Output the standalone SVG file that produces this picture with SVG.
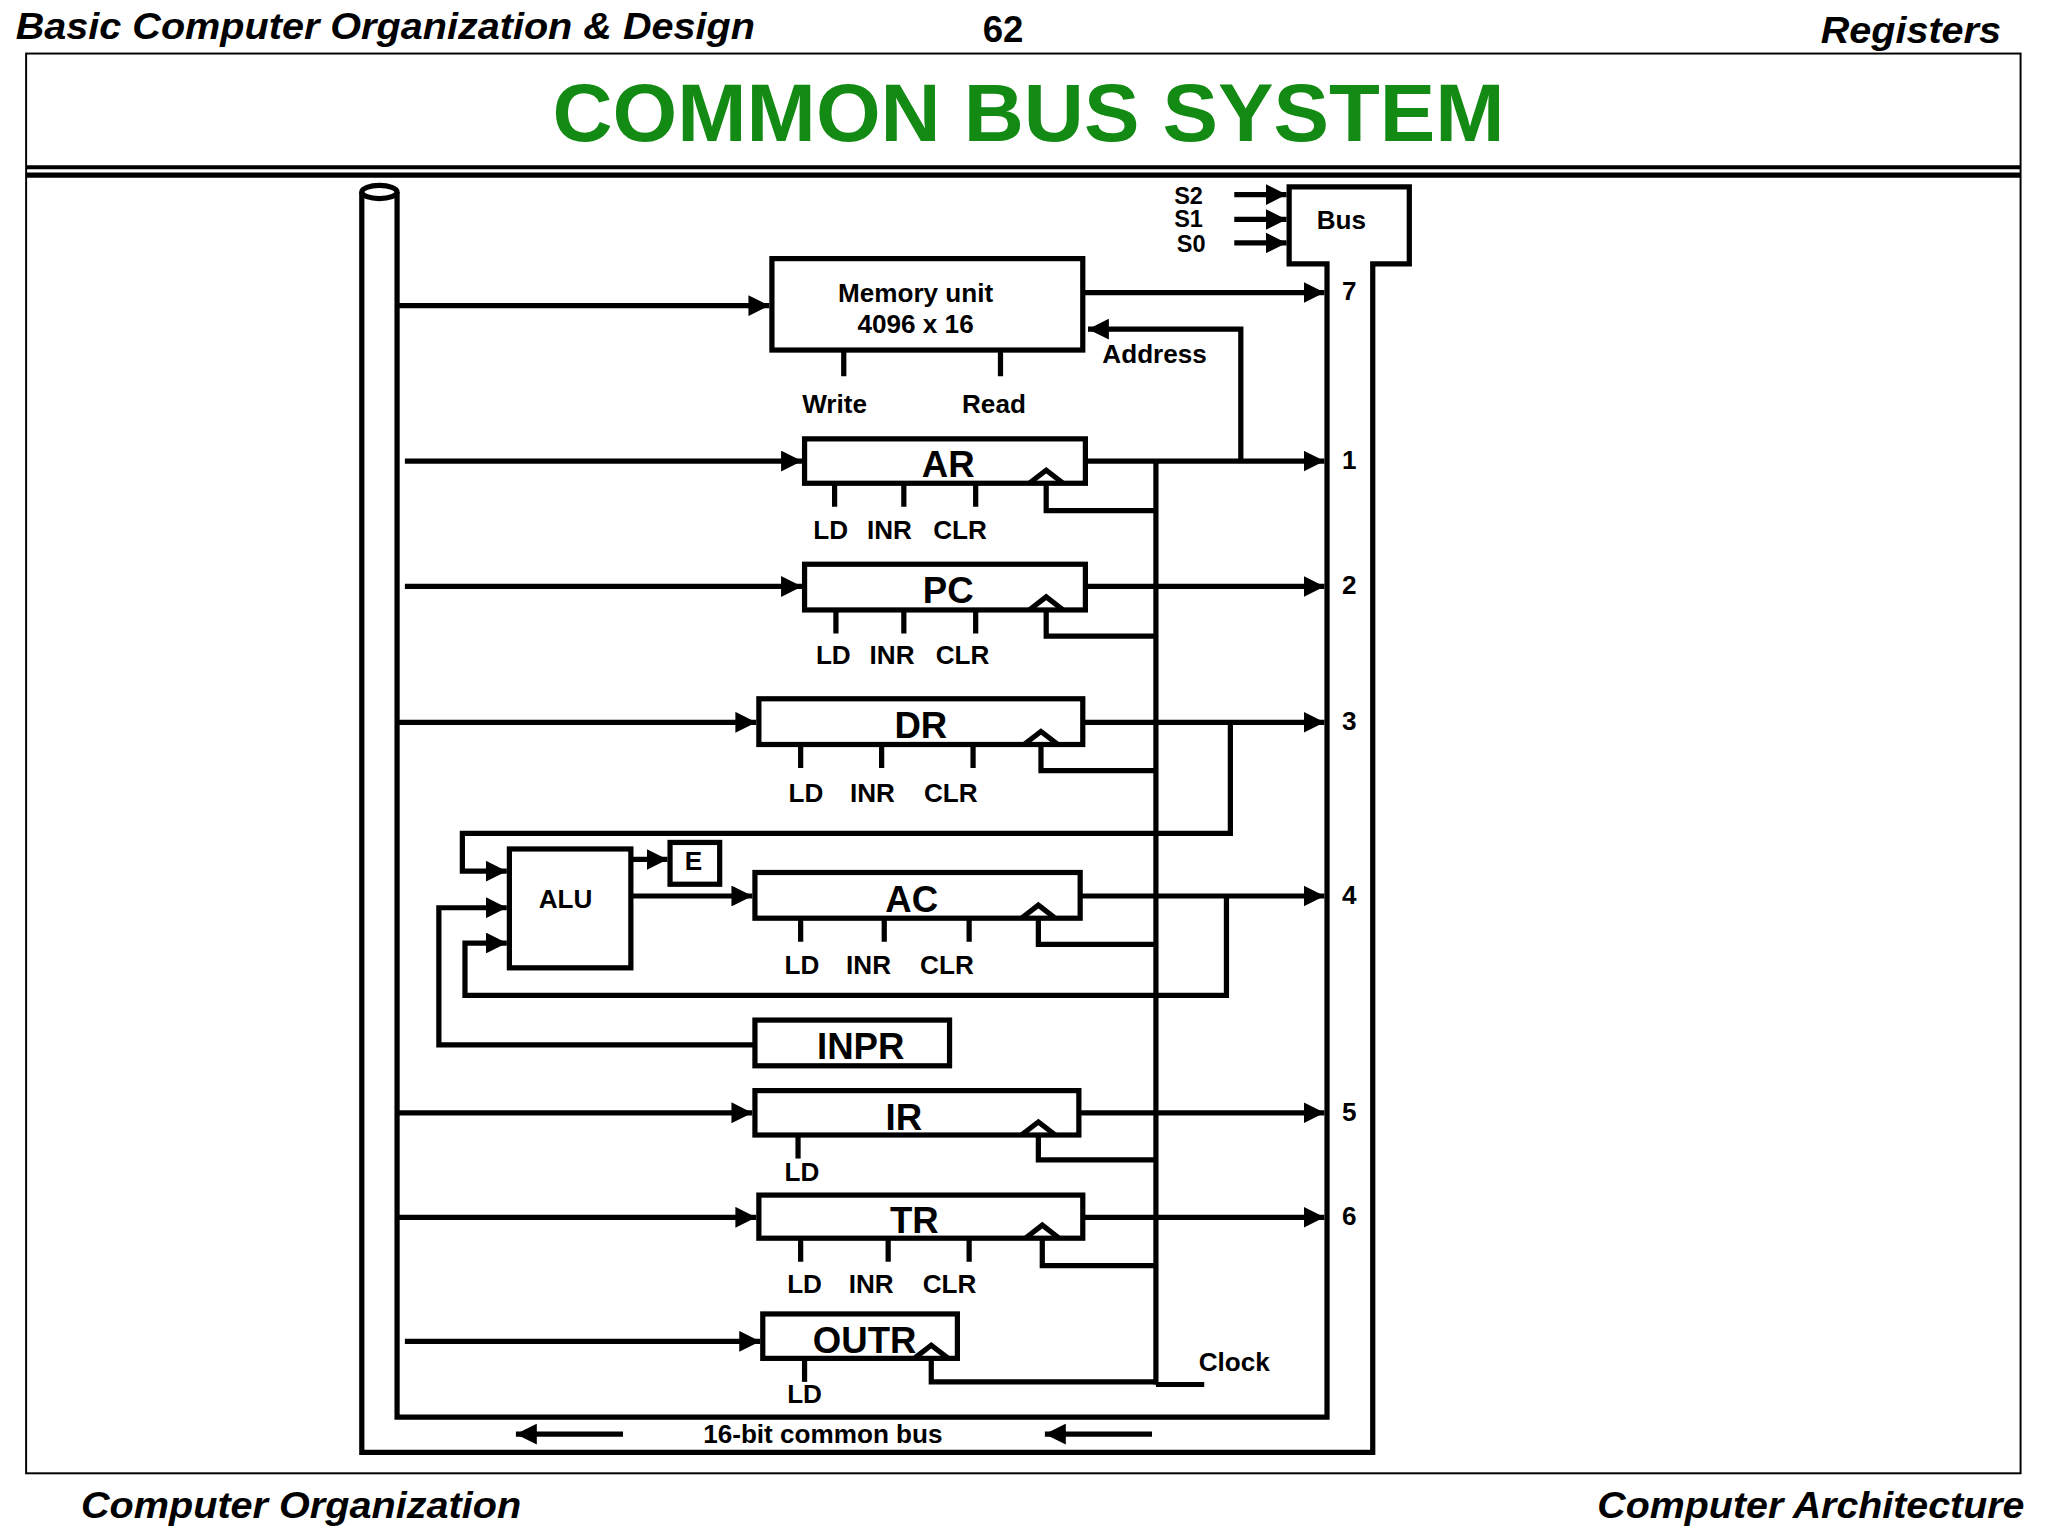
<svg xmlns="http://www.w3.org/2000/svg" width="2048" height="1536" viewBox="0 0 2048 1536">
<defs>
<marker id="ah" viewBox="0 0 10 10" refX="10" refY="5" markerWidth="4" markerHeight="4" orient="auto"><path d="M0,0 L10,5 L0,10 Z" fill="#000"/></marker>
<style>
.l{stroke:#000;stroke-width:4;fill:none}
.a{stroke:#000;stroke-width:4;fill:none;marker-end:url(#ah)}
.r{stroke:#000;stroke-width:4;fill:#fff}
text{font-family:"Liberation Sans",Arial,sans-serif;font-weight:bold;fill:#000}
.s{font-size:18px;text-anchor:middle}
.m{font-size:20px;text-anchor:middle}
.big{font-size:28px;text-anchor:middle}
.h{font-size:28px;font-style:italic}
</style>
</defs>
<rect width="2048" height="1536" fill="#fff"/>
<g transform="scale(1.30612)">
<g id="header">
<text class="h" x="12" y="30" textLength="566" lengthAdjust="spacingAndGlyphs">Basic Computer Organization &amp; Design</text>
<text x="768" y="32" style="font-size:28px;text-anchor:middle">62</text>
<text class="h" x="1394" y="33" textLength="138" lengthAdjust="spacingAndGlyphs">Registers</text>
<rect x="20" y="41" width="1527" height="1087" fill="none" stroke="#000" stroke-width="1.5"/>
<line x1="20" y1="128" x2="1547" y2="128" stroke="#000" stroke-width="3"/>
<line x1="20" y1="134" x2="1547" y2="134" stroke="#000" stroke-width="4"/>
<text x="423" y="108" textLength="729" lengthAdjust="spacingAndGlyphs" style="font-size:62px;fill:#138a13">COMMON  BUS  SYSTEM</text>
<text class="h" x="62" y="1162" textLength="337" lengthAdjust="spacingAndGlyphs">Computer Organization</text>
<text class="h" x="1223" y="1162" textLength="327" lengthAdjust="spacingAndGlyphs">Computer Architecture</text>
</g>
<g id="bus">
<path class="l" d="M277,147 V1112 H1051 V202 H1079 V143 H987 V202 H1016 V1085 H304 V147"/>
<ellipse cx="290.5" cy="147" rx="13.5" ry="5" class="r"/>
<text x="1027" y="175" class="m">Bus</text>
<text x="910" y="156" class="s">S2</text><text x="910" y="174" class="s">S1</text><text x="912" y="193" class="s">S0</text>
<text x="630" y="1105" class="m">16-bit common bus</text>
</g>
<g id="connectors">
<line class="a" x1="945" y1="149" x2="985" y2="149"/>
<line class="a" x1="945" y1="168" x2="985" y2="168"/>
<line class="a" x1="945" y1="186" x2="985" y2="186"/>
<line class="a" x1="477" y1="1098" x2="395" y2="1098"/>
<line class="a" x1="882" y1="1098" x2="800" y2="1098"/>
<line class="a" x1="304" y1="234" x2="589" y2="234"/>
<line class="a" x1="829" y1="224" x2="1014" y2="224"/>
<path class="a" d="M950,353 V252 H833"/>
<line class="a" x1="310" y1="353" x2="614" y2="353"/>
<line class="a" x1="831" y1="353" x2="1014" y2="353"/>
<line class="a" x1="310" y1="449" x2="614" y2="449"/>
<line class="a" x1="831" y1="449" x2="1014" y2="449"/>
<line class="a" x1="304" y1="553" x2="579" y2="553"/>
<line class="a" x1="829" y1="553" x2="1014" y2="553"/>
<path class="a" d="M942,553 V638 H354 V667 H388"/>
<line class="a" x1="483" y1="658" x2="511" y2="658"/>
<line class="a" x1="483" y1="686" x2="576" y2="686"/>
<line class="a" x1="827" y1="686" x2="1014" y2="686"/>
<path class="a" d="M939,686 V762 H356 V722 H388"/>
<path class="a" d="M578,800 H336 V695 H388"/>
<line class="a" x1="304" y1="852" x2="576" y2="852"/>
<line class="a" x1="826" y1="852" x2="1014" y2="852"/>
<line class="a" x1="304" y1="932" x2="579" y2="932"/>
<line class="a" x1="829" y1="932" x2="1014" y2="932"/>
<line class="a" x1="310" y1="1027" x2="582" y2="1027"/>
<line class="l" x1="885" y1="353" x2="885" y2="1060"/>
<line class="l" x1="885" y1="1060" x2="922" y2="1060"/>
<path class="l" d="M801,366 V391 H885"/>
<path class="l" d="M801,463 V487 H885"/>
<path class="l" d="M797,566 V590 H885"/>
<path class="l" d="M795,699 V723 H885"/>
<path class="l" d="M795,865 V888 H885"/>
<path class="l" d="M798,944 V969 H885"/>
<path class="l" d="M713,1036 V1058 H885"/>
<text x="945" y="1050" class="m">Clock</text>
<text x="1033" y="230" class="m">7</text>
<text x="1033" y="359" class="m">1</text>
<text x="1033" y="455" class="m">2</text>
<text x="1033" y="559" class="m">3</text>
<text x="1033" y="692" class="m">4</text>
<text x="1033" y="858" class="m">5</text>
<text x="1033" y="938" class="m">6</text>
<text x="884" y="278" class="m">Address</text>
</g>
<g id="memory">
<rect class="r" x="591" y="198" width="238" height="70"/>
<text x="701" y="231" class="m">Memory unit</text><text x="701" y="255" class="m">4096 x 16</text>
<path class="l" d="M646,268 V288 M766,268 V288"/>
<text x="639" y="316" class="m">Write</text><text x="761" y="316" class="m">Read</text>
</g>
<g id="AR"><rect class="r" x="616" y="336" width="215" height="34"/><text x="726" y="365" class="big">AR</text>
<polyline class="l" points="788,370 801,360 814,370"/>
<path class="l" d="M639,370 V388 M692,370 V388 M747,370 V388"/>
<text x="636" y="413" class="m">LD</text><text x="681" y="413" class="m">INR</text><text x="735" y="413" class="m">CLR</text></g>
<g id="PC"><rect class="r" x="616" y="432" width="215" height="35"/><text x="726" y="462" class="big">PC</text>
<polyline class="l" points="788,467 801,457 814,467"/>
<path class="l" d="M640,467 V485 M692,467 V485 M747,467 V485"/>
<text x="638" y="508" class="m">LD</text><text x="683" y="508" class="m">INR</text><text x="737" y="508" class="m">CLR</text></g>
<g id="DR"><rect class="r" x="581" y="535" width="248" height="35"/><text x="705" y="565" class="big">DR</text>
<polyline class="l" points="784,570 797,560 810,570"/>
<path class="l" d="M613,570 V588 M675,570 V588 M745,570 V588"/>
<text x="617" y="614" class="m">LD</text><text x="668" y="614" class="m">INR</text><text x="728" y="614" class="m">CLR</text></g>
<g id="ALU"><rect class="r" x="390" y="650" width="93" height="91"/><text x="433" y="695" class="m">ALU</text></g>
<g id="E"><rect class="r" x="513" y="645" width="38" height="32"/><text x="531" y="666" class="m">E</text></g>
<g id="AC"><rect class="r" x="578" y="668" width="249" height="35"/><text x="698" y="698" class="big">AC</text>
<polyline class="l" points="782,703 795,693 808,703"/>
<path class="l" d="M613,703 V721 M677,703 V721 M742,703 V721"/>
<text x="614" y="746" class="m">LD</text><text x="665" y="746" class="m">INR</text><text x="725" y="746" class="m">CLR</text></g>
<g id="INPR"><rect class="r" x="578" y="781" width="149" height="35"/><text x="659" y="811" class="big">INPR</text></g>
<g id="IR"><rect class="r" x="578" y="835" width="248" height="34"/><text x="692" y="865" class="big">IR</text>
<polyline class="l" points="782,869 795,859 808,869"/>
<path class="l" d="M611,869 V887"/>
<text x="614" y="904" class="m">LD</text></g>
<g id="TR"><rect class="r" x="581" y="915" width="248" height="33"/><text x="700" y="944" class="big">TR</text>
<polyline class="l" points="785,948 798,938 811,948"/>
<path class="l" d="M613,948 V966 M680,948 V966 M742,948 V966"/>
<text x="616" y="990" class="m">LD</text><text x="667" y="990" class="m">INR</text><text x="727" y="990" class="m">CLR</text></g>
<g id="OUTR"><rect class="r" x="584" y="1006" width="149" height="34"/><text x="662" y="1036" class="big">OUTR</text>
<polyline class="l" points="700,1040 713,1030 726,1040"/>
<path class="l" d="M616,1040 V1058"/>
<text x="616" y="1074" class="m">LD</text></g>
</g>
</svg>
